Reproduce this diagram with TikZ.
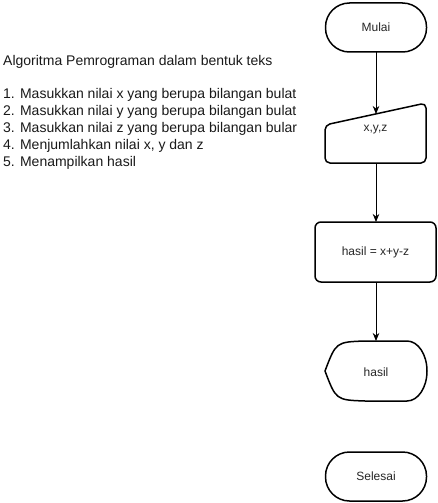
\documentclass[tikz,border=0pt]{standalone}
\usepackage{fontspec}
\setmainfont{Liberation Sans}
\usetikzlibrary{arrows.meta,calc}
\begin{document}
\begin{tikzpicture}[x=1pt,y=-1pt,
  shapeline/.style={line width=1.5pt, line join=round},
  lbl/.style={font=\fontsize{12}{14}\selectfont, text=black!85, inner sep=0pt},
  box/.style={inner sep=0pt, outer sep=0pt},
  conn/.style={line width=0.9pt, -{Stealth[length=8pt,width=6.5pt,inset=2.5pt]}}]
\useasboundingbox (0,0) rectangle (437,503);

% left text
\node[anchor=north west, align=left, inner sep=0pt,
      font=\fontsize{14}{16.8}\selectfont, text=black!90] (txt) at (3,55)
  {Algoritma Pemrograman dalam bentuk teks\\[16.8pt]
   1. Masukkan nilai x yang berupa bilangan bulat\\
   2. Masukkan nilai y yang berupa bilangan bulat\\
   3. Masukkan nilai z yang berupa bilangan bular\\
   4. Menjumlahkan nilai x, y dan z\\
   5. Menampilkan hasil};

% Mulai
\node[box, shapeline, draw, rounded corners=24pt, minimum width=101pt, minimum height=49pt,
      lbl] (mulai) at (376,27.5) {Mulai};

% manual input
\node[box, minimum width=101pt, minimum height=60pt] (inp) at (375.5,133) {};
\draw[shapeline, rounded corners=5pt]
  (inp.south west) -- ($(inp.north west)+(0,22)$) -- (inp.north east) -- (inp.south east) -- cycle;
\node[lbl] (inplbl) at (375.5,130) {x,y,z};
\coordinate (inptop) at (376,114);

% process
\node[box, shapeline, draw, rounded corners=6pt, minimum width=121pt, minimum height=60pt,
      lbl] (proc) at (375.5,252) {hasil = x+y-z};

% display
\node[box, minimum width=102pt, minimum height=60pt] (disp) at (376,371) {};
\draw[shapeline]
  (disp.west) .. controls (336,342) .. ($(disp.north west)+(40,0)$)
  -- ($(disp.north east)+(-20,0)$) arc[start angle=90, end angle=-90, x radius=20pt, y radius=30pt]
  -- ($(disp.south west)+(40,0)$) .. controls (336,400) .. (disp.west) -- cycle;
\node[lbl] (displbl) at (376,372) {hasil};

% Selesai
\node[box, shapeline, draw, rounded corners=24pt, minimum width=101pt, minimum height=49pt,
      lbl] (selesai) at (376,476.5) {Selesai};

% connectors
\draw[conn] (mulai.south) -- (inptop);
\draw[conn] (inp.south -| inptop) -- (proc.north -| inptop);
\draw[conn] (proc.south -| inptop) -- (disp.north -| inptop);
\end{tikzpicture}
\end{document}
